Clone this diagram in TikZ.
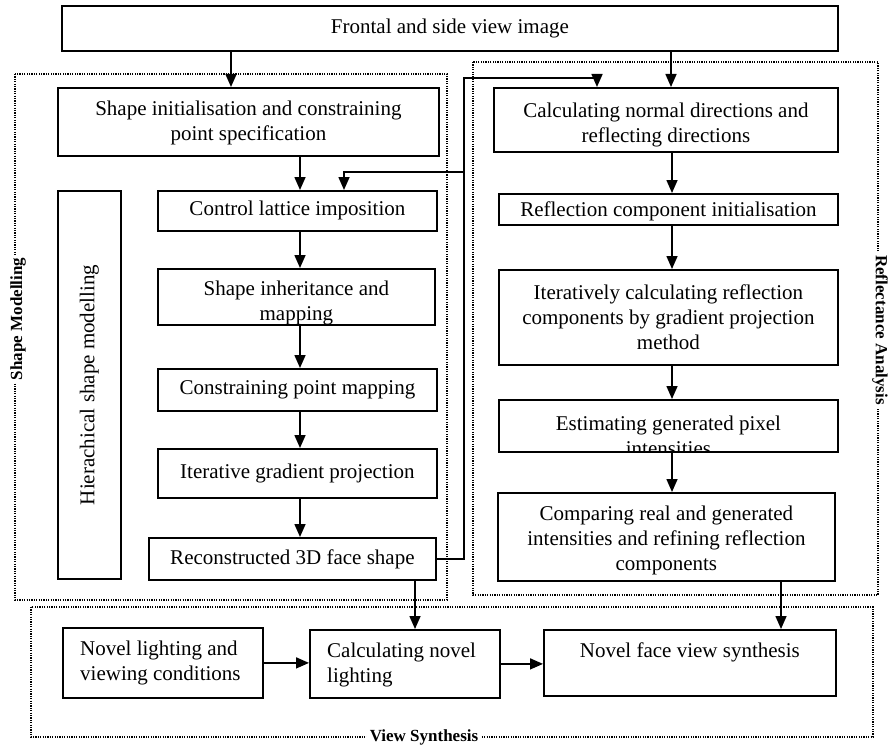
\documentclass[tikz,border=0pt]{standalone}
\usepackage{fontspec}
\setmainfont{Liberation Serif}
\usetikzlibrary{arrows.meta}
\tikzset{
 box/.style={draw, line width=1.8pt, inner sep=0pt, anchor=north west},
 txt/.style={font=\fontsize{21}{25}\selectfont, align=center, inner sep=0pt},
 txtl/.style={font=\fontsize{21}{25}\selectfont, align=left, inner sep=0pt, anchor=west},
 arr/.style={line width=1.6pt, -{Triangle[length=13pt,width=11pt]}},
 frame/.style={line width=1.2pt, dash pattern=on 1.2pt off 1.2pt},
 grp/.style={font=\fontsize{17}{20}\selectfont\bfseries, fill=white, inner sep=3pt},
}
% #1 name, #2 x, #3 y (top-left), #4 width, #5 height, #6 text node options, #7 anchor of box, #8 text
\newcommand\fbx[8]{\node[box, minimum width=#4pt, minimum height=#5pt] (#1) at (#2,#3) {};
  \begin{scope}
  \clip (#1.north west) rectangle (#1.south east);
  \node[#6] (#1t) at (#1.#7) {#8};
  \end{scope}}
\begin{document}
\begin{tikzpicture}[x=1pt,y=-1pt]
\useasboundingbox (0,0) rectangle (888,749);
% group frames
\draw[frame] (15,74) rectangle (447,600);
\draw[frame] (473,62) rectangle (878,595);
\draw[frame] (31,607) rectangle (873,737);
% boxes
\fbx{top}{61}{5}{776}{45}{txt}{center}{Frontal and side view image}
\fbx{shapeinit}{57}{87}{381}{68}{txt, yshift=-1.5pt}{center}{Shape initialisation and constraining\\point specification}
\fbx{calcnorm}{493}{87}{344}{64}{txt, yshift=-5.5pt}{center}{Calculating normal directions and\\reflecting directions}
\fbx{hier}{57}{190}{63}{388}{txt, rotate=90}{center}{Hierachical shape modelling}
\fbx{ctrl}{157}{190}{279}{40}{txt}{center}{Control lattice imposition}
\fbx{shinh}{157}{268}{277}{56}{txt, yshift=-6pt}{center}{Shape inheritance and\\mapping}
\fbx{constr}{157}{368}{279}{42}{txt}{center}{Constraining point mapping}
\fbx{itergrad}{157}{448}{279}{49}{txt}{center}{Iterative gradient projection}
\fbx{recon}{148}{537}{287}{42}{txt}{center}{Reconstructed 3D face shape}
\fbx{reflinit}{498}{193}{339}{31}{txt, yshift=-2pt}{center}{Reflection component initialisation}
\fbx{iter}{498}{269}{339}{95}{txt}{center}{Iteratively calculating reflection\\components by gradient projection\\method}
\fbx{estim}{498}{399}{339}{52}{txt, yshift=-10pt}{center}{Estimating generated pixel\\intensities}
\fbx{compare}{497}{492}{337}{88}{txt, yshift=-4pt}{center}{Comparing real and generated\\intensities and refining reflection\\components}
\fbx{nl}{62}{627}{200}{70}{txtl, xshift=18pt}{west}{Novel lighting and\\viewing conditions}
\fbx{cnl}{309}{629}{190}{68}{txtl, xshift=18pt, yshift=-1.5pt}{west}{Calculating novel\\lighting}
\fbx{nfv}{543}{629}{292}{66}{txt, yshift=11pt}{center}{Novel face view synthesis}
% group labels
\node[grp, rotate=90] (lsm) at (18,319) {Shape Modelling};
\node[grp, rotate=-90] (lra) at (880,330) {Reflectance Analysis};
\node[grp] (lvs) at (424,737) {View Synthesis};
% column coordinates
\coordinate (xa) at (231,0);
\coordinate (xb) at (671,0);
\coordinate (xc) at (300,0);
\coordinate (xd) at (344,0);
\coordinate (xe) at (597,0);
\coordinate (xf) at (672,0);
\coordinate (xg) at (415,0);
\coordinate (xh) at (781,0);
\coordinate (busx) at (464,0);
\coordinate (topy) at (0,78);
\coordinate (midy) at (0,172);
% connectors
\draw[arr] (top.south -| xa) -- (shapeinit.north -| xa);
\draw[arr] (top.south -| xb) -- (calcnorm.north -| xb);
\draw[arr] (shapeinit.south -| xc) -- (ctrl.north -| xc);
\draw[arr] (ctrl.south -| xc) -- (shinh.north -| xc);
\draw[arr] (shinh.south -| xc) -- (constr.north -| xc);
\draw[arr] (constr.south -| xc) -- (itergrad.north -| xc);
\draw[arr] (itergrad.south -| xc) -- (recon.north -| xc);
\draw[arr] (recon.east) -- (recon.east -| busx) -- (busx |- topy) -- (xe |- topy) -- (calcnorm.north -| xe);
\draw[arr] (busx |- midy) -- (xd |- midy) -- (ctrl.north -| xd);
\draw[arr] (calcnorm.south -| xf) -- (reflinit.north -| xf);
\draw[arr] (reflinit.south -| xf) -- (iter.north -| xf);
\draw[arr] (iter.south -| xf) -- (estim.north -| xf);
\draw[arr] (estim.south -| xf) -- (compare.north -| xf);
\draw[arr] (recon.south -| xg) -- (cnl.north -| xg);
\draw[arr] (compare.south -| xh) -- (nfv.north -| xh);
\draw[arr] (nl.east) -- (nl.east -| cnl.west);
\draw[arr] (cnl.east) -- (cnl.east -| nfv.west);
\end{tikzpicture}
\end{document}
